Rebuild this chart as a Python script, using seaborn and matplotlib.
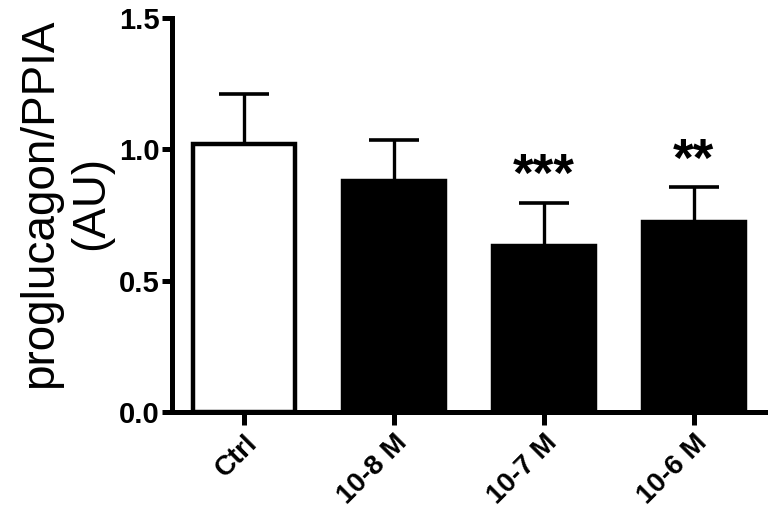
import numpy as np
import pandas as pd
import matplotlib
matplotlib.use("Agg")
import matplotlib.pyplot as plt
import seaborn as sns

# datos
groups = ["Ctrl", "10-8 M", "10-7 M", "10-6 M"]
means = [1.02, 0.88, 0.63, 0.725]
sems = [0.19, 0.155, 0.165, 0.13]
stars = ["", "", "***", "**"]
colors = ["white", "black", "black", "black"]

sns.set_style("ticks", {"axes.edgecolor": "black", "xtick.color": "black",
                        "ytick.color": "black", "text.color": "black",
                        "axes.labelcolor": "black"})
plt.rcParams["font.family"] = ["Liberation Sans", "DejaVu Sans"]

df = pd.DataFrame({"group": groups, "value": means})

fig = plt.figure(figsize=(7.68, 5.18), dpi=100)
ax = fig.add_axes([0.224, 0.205, 0.775, 0.76])

# barras de error solo hacia arriba
ax.errorbar(range(len(groups)), means, yerr=[np.zeros(len(sems)), sems],
            fmt="none", ecolor="black", elinewidth=2.4, capsize=18, capthick=2.6, zorder=1)

sns.barplot(data=df, x="group", y="value", hue="group", palette=colors, legend=False,
            edgecolor="black", linewidth=3.2, width=0.68, saturation=1, ax=ax, zorder=2)

for i, s in enumerate(stars):
    if s:
        ax.text(i, means[i] + sems[i] + 0.045, s, ha="center", va="baseline",
                fontsize=38, fontweight="bold")

ax.set_ylim(0, 1.5)
ax.set_xlim(-0.48, 3.49)
ax.set_yticks([0.0, 0.5, 1.0, 1.5])
ax.set_yticklabels(["0.0", "0.5", "1.0", "1.5"], fontsize=21, fontweight="bold")
ax.set_xticks(range(len(groups)))
ax.set_xticklabels(groups, rotation=45, ha="right", rotation_mode="anchor",
                   fontsize=20, fontweight="bold")
ax.set_xlabel("")
ax.set_ylabel("proglucagon/PPIA\n(AU)", fontsize=33, labelpad=4)
ax.yaxis.label.set_y(0.53)

sns.despine(ax=ax)
for sp in ["left", "bottom"]:
    ax.spines[sp].set_linewidth(3.6)
ax.tick_params(axis="y", width=3.6, length=7, pad=2)
ax.tick_params(axis="x", width=3.6, length=9, pad=4)

fig.savefig("out.png", dpi=100)
